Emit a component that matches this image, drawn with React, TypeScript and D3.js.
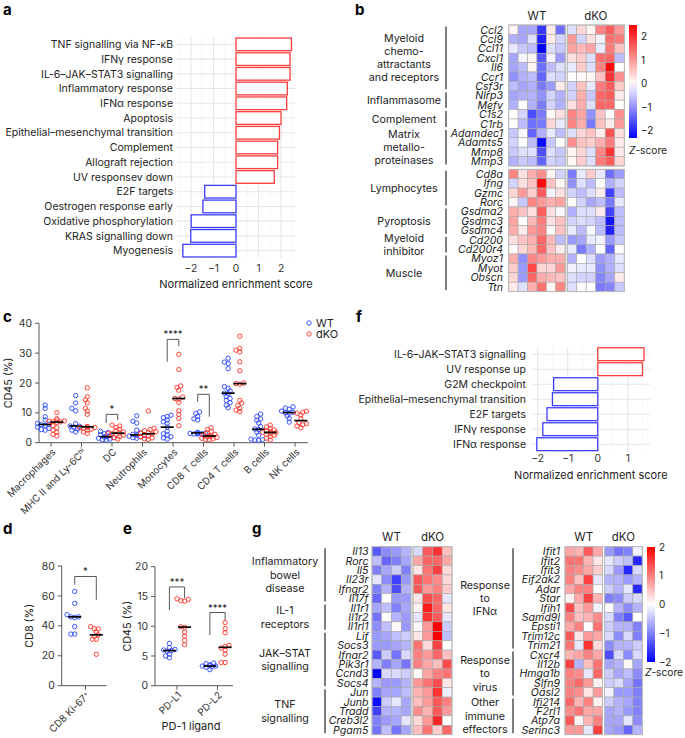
import React from 'react';
import * as d3 from 'd3';

const FONT = 'Inter, "Liberation Sans", Arial, sans-serif';
const RED = '#ff3b30';
const BLUE = '#2f4dff';

// ---------- a / f : GSEA bars
const gseaATerms = [
  'TNF signalling via NF-κB', 'IFNγ response', 'IL-6–JAK–STAT3 signalling', 'Inflammatory response',
  'IFNα response', 'Apoptosis', 'Epithelial–mesenchymal transition', 'Complement', 'Allograft rejection',
  'UV responsev down', 'E2F targets', 'Oestrogen response early', 'Oxidative phosphorylation',
  'KRAS signalling down', 'Myogenesis',
];
const gseaAScores = [2.46, 2.4, 2.4, 2.28, 2.25, 2.0, 1.93, 1.85, 1.85, 1.7, -1.39, -1.47, -1.99, -2.01, -2.36];
const gseaFTerms = [
  'IL-6–JAK–STAT3 signalling', 'UV response up', 'G2M checkpoint', 'Epithelial–mesenchymal transition',
  'E2F targets', 'IFNγ response', 'IFNα response',
];
const gseaFScores = [1.54, 1.49, -1.47, -1.51, -1.69, -1.83, -2.03];
const nesTicksA = [-2, -1, 0, 1, 2];
const nesTicksF = [-2, -1, 0, 1];

// ---------- b : heatmap
const genesB = [
  'Ccl2', 'Ccl9', 'Ccl11', 'Cxcl1', 'Il6', 'Ccr1', 'Csf3r', 'Nlrp3', 'Mefv', 'C1s2', 'C1rb', 'Adamdec1',
  'Adamts5', 'Mmp8', 'Mmp3', 'Cd8a', 'Ifng', 'Gzmc', 'Rorc', 'Gsdma2', 'Gsdmc3', 'Gsdmc4', 'Cd200',
  'Cd200r4', 'Myoz1', 'Myot', 'Obscn', 'Ttn',
];
const valuesB = [
  [0.1, -0.8, -0.8, -1.8, 0.2, -1.3, -0.3, 0.4, 0.1, 1.2, 1.6, 1.0],
  [-0.7, -0.8, -0.3, -2.0, 0.2, -0.4, 1.0, -0.4, 0.3, -0.1, 1.4, 1.3],
  [-0.2, -0.5, -0.6, -2.3, -0.3, -0.5, 0.9, 0.7, 0.9, -0.2, 1.3, 0.6],
  [-0.8, -0.1, 0.1, -1.5, -0.1, -0.9, 0.3, 0.5, -0.3, 1.4, 1.5, -0.6],
  [-0.8, -0.6, 0.1, -1.3, -0.6, -0.3, -0.2, 0.5, -0.3, 1.2, 2.4, 0.0],
  [-1.0, -0.7, -0.6, -1.4, -0.3, -0.4, 0.0, 0.05, 0.1, 0.6, 2.0, 1.1],
  [-0.6, -0.8, -0.7, -1.2, -0.9, 0.2, -0.4, 0.6, -0.2, 1.3, 1.6, 0.5],
  [-0.8, -0.7, -0.7, -1.0, -0.4, -0.7, -0.4, 0.8, -0.5, 1.5, 1.6, 0.2],
  [-0.7, 0.0, -0.7, -1.2, -0.4, -0.7, 0.3, 0.8, -0.3, 1.5, 1.5, 0.0],
  [0.0, -0.4, -1.6, -1.2, 0.05, 0.3, 1.2, 0.9, -1.0, 0.6, 0.0, 1.1],
  [0.0, -0.6, -1.3, -1.2, 0.4, -0.2, 1.2, 0.8, -1.2, 0.6, 0.2, 1.0],
  [-0.5, -0.05, -1.4, -0.7, -0.2, -0.6, -0.3, 0.4, 0.6, 0.2, 1.7, 0.3],
  [-0.4, 0.0, -0.6, -2.2, -0.5, 0.0, 1.1, 0.6, 0.5, 0.8, 1.3, 0.2],
  [-0.5, -0.3, -0.3, -1.6, -0.3, -0.5, 0.1, 0.4, -0.3, 1.2, 2.0, 0.2],
  [-0.7, -0.5, -0.6, -1.4, -0.4, -0.5, 0.1, 0.5, -0.3, 1.3, 1.6, 0.4],
  [1.2, 0.3, 0.8, 1.1, 0.1, -0.4, -1.2, -0.2, 0.5, -0.2, -1.3, -0.9],
  [-0.4, 0.3, 0.6, 2.4, 0.6, 0.1, -1.0, -0.3, -0.6, 0.0, -0.7, -0.4],
  [0.4, 1.0, 0.5, 1.6, -0.1, 0.3, -0.4, -0.6, -0.3, 0.2, -1.7, -0.6],
  [0.1, -0.5, 1.2, 1.0, 0.8, 0.9, 0.05, -0.4, -0.8, -0.6, -1.2, -0.2],
  [0.8, 0.6, 0.3, 1.6, 0.3, -0.05, -0.7, -0.3, -0.3, 0.2, -1.7, -0.6],
  [0.9, 0.0, 0.7, 1.3, 0.3, 0.6, -0.4, -0.3, -0.4, -0.6, -2.1, -0.6],
  [0.8, 0.2, 1.0, 1.2, 0.05, 0.6, -0.2, -0.6, -0.05, -0.6, -2.0, -0.6],
  [0.3, 0.6, 0.8, 1.5, 0.7, -0.6, -0.9, -0.8, -0.2, -0.1, -0.9, -0.5],
  [0.05, 0.4, 0.7, 1.5, 0.6, 0.2, -0.2, -1.2, -0.7, 0.0, -1.4, 0.0],
  [0.8, -1.0, 1.2, 1.0, 0.8, 0.8, -0.7, 0.0, -0.3, -0.9, -0.7, -0.2],
  [0.5, -0.9, 1.8, 0.4, 0.4, 1.0, -0.1, -0.2, -0.2, -1.0, -0.7, -0.3],
  [0.4, -0.9, 1.5, 0.8, 0.7, 0.6, -0.3, -0.4, -0.4, -1.1, -0.8, 0.2],
  [0.2, -0.3, 0.8, 1.4, 0.1, 1.2, -0.3, 0.05, 0.0, -1.2, -1.1, -0.5],
];
const groupsB = [
  { lines: ['Myeloid', 'chemo-', 'attractants', 'and receptors'], n: 7 },
  { lines: ['Inflammasome'], n: 2 },
  { lines: ['Complement'], n: 2 },
  { lines: ['Matrix', 'metallo-', 'proteinases'], n: 4 },
  { lines: ['Lymphocytes'], n: 4 },
  { lines: ['Pyroptosis'], n: 3 },
  { lines: ['Myeloid', 'inhibitor'], n: 2 },
  { lines: ['Muscle'], n: 4 },
];
const zTicksB = [2, 1, 0, -1, -2];

// ---------- g : heatmaps
const genesGLeft = [
  'Il13', 'Rorc', 'Il5', 'Il23r', 'Ifngr2', 'Il17f', 'Il1r1', 'Il1r2', 'Il1rl1', 'Lif', 'Socs3', 'Ifnar2',
  'Pik3r1', 'Ccnd3', 'Socs4', 'Jun', 'Junb', 'Tradd', 'Creb3l2', 'Pgam5',
];
const valuesGLeft = [
  [-1.3, -0.9, -0.8, -0.6, -0.3, 1.3, 1.6, 0.5],
  [-0.5, -1.2, -1.0, -0.7, 0.7, 1.2, 1.2, 0.7],
  [-1.0, -0.7, -0.4, -1.0, 0.2, 1.1, 1.5, 0.3],
  [-0.2, -0.9, -1.5, -0.8, 1.3, 1.1, 0.9, 0.3],
  [-1.0, -0.6, -1.4, -0.6, 1.3, 0.8, 1.0, 0.4],
  [-1.2, 0.0, -0.8, -0.8, 0.2, 1.4, 1.2, -0.2],
  [-0.7, -0.5, -1.0, -0.7, 0.1, 1.8, 1.2, 0.2],
  [-1.1, 0.0, -0.6, -0.8, -0.2, 1.6, 1.3, -0.2],
  [-0.9, -0.5, 0.05, -0.8, 0.05, 0.8, 2.0, -0.4],
  [-0.8, -0.7, -0.5, -0.4, 0.2, 0.8, 2.0, -0.5],
  [-0.8, -0.8, -0.7, -0.6, 1.1, 0.3, 1.5, 0.0],
  [-1.3, -0.4, -1.1, -0.3, 1.0, 0.8, 1.2, 0.5],
  [-0.6, -1.0, -0.7, -1.1, 1.0, 0.7, 0.5, 1.4],
  [-2.0, -0.3, -0.3, -0.4, 0.05, 0.7, 1.0, 1.1],
  [-0.6, -0.8, -0.8, -0.6, 0.8, 1.1, 1.4, 0.2],
  [-1.0, -0.7, -0.7, -0.5, 0.6, 0.8, 1.6, -0.1],
  [-1.9, -0.4, -0.2, -0.7, 0.5, 0.8, 1.3, 1.0],
  [-1.5, -0.6, -0.6, -0.7, 0.9, 0.6, 1.3, 0.8],
  [-1.0, -0.8, -0.7, -0.2, 0.3, 0.8, 1.7, 0.0],
  [-1.1, -0.5, -1.1, -0.7, 0.5, 1.1, 0.4, 1.2],
];
const groupsGLeft = [
  { lines: ['Inflammatory', 'bowel', 'disease'], n: 6 },
  { lines: ['IL-1', 'receptors'], n: 3 },
  { lines: ['JAK–STAT', 'signalling'], n: 6 },
  { lines: ['TNF', 'signalling'], n: 5 },
];
const genesGRight = [
  'Ifit1', 'Ifit2', 'Ifit3', 'Eif2ak2', 'Adar', 'Star', 'Ifih1', 'Samd9l', 'Epsti1', 'Trim12c', 'Trim21',
  'Cxcr4', 'Il12b', 'Hmga1b', 'Slfn9', 'Oasl2', 'Ifi214', 'F2rl1', 'Atp7a', 'Serinc3',
];
const valuesGRight = [
  [0.7, 0.6, 1.3, 0.7, -0.8, -1.1, -1.0, -0.1],
  [1.1, 1.1, 0.6, 0.2, -0.2, -0.4, -0.5, -1.7],
  [1.0, 0.9, 0.7, 0.4, -0.3, -0.8, -1.7, -0.3],
  [1.0, 0.5, 1.5, -0.2, -0.6, -0.6, -0.8, -0.6],
  [0.7, 1.0, 1.0, 0.0, -0.4, -0.6, -0.2, -1.7],
  [0.1, 0.7, 1.5, 0.6, -1.0, -0.9, -0.4, -0.3],
  [1.4, 0.5, 0.8, -0.1, 0.05, -0.6, -0.9, -0.6],
  [1.0, 0.5, 0.6, 0.9, -0.3, -1.0, -1.3, 0.0],
  [0.7, 1.0, 0.0, 1.1, -0.4, -0.6, -0.6, -1.0],
  [1.3, 0.2, 0.8, 0.7, -0.3, -0.9, -0.3, -1.0],
  [1.1, -0.2, 1.6, 0.3, -0.9, -0.6, -0.6, -0.4],
  [0.6, 0.7, 1.0, 0.7, -1.4, -0.3, -0.9, -0.3],
  [1.5, -0.6, 0.5, 1.1, -0.7, -0.6, 0.05, -0.7],
  [1.0, 0.9, -0.2, 1.2, -0.4, -0.7, -0.5, -0.9],
  [1.0, 1.2, 0.8, 0.1, -0.4, -0.3, -0.7, -1.1],
  [1.0, 0.9, 0.2, 0.8, -0.1, -0.8, -0.8, -1.0],
  [1.2, 0.6, 1.0, 0.1, -0.4, -0.6, -0.7, -1.0],
  [0.9, 1.1, 0.7, 0.7, -0.7, -0.6, -0.8, -1.0],
  [1.3, 0.1, 0.6, 1.0, -0.7, -0.7, -0.2, -0.9],
  [0.8, 0.8, -0.2, 1.5, -0.7, -0.8, -1.2, -0.6],
];
const groupsGRight = [
  { lines: ['Response', 'to', 'IFNα'], n: 11 },
  { lines: ['Response', 'to', 'virus'], n: 5 },
  { lines: ['Other', 'immune', 'effectors'], n: 4 },
];
const zTicksG = [2, 1, 0, -1, -2];

// ---------- c : CD45 % by cell type
const catsC = ['Macrophages', 'MHC II and Ly-6C^hi', 'DC', 'Neutrophils', 'Monocytes', 'CD8 T cells', 'CD4 T cells', 'B cells', 'NK cells'];
const wtC = [
  [12.6, 11.5, 8.7, 7.6, 6.5, 6.2, 6.0, 5.8, 5.2, 4.8, 4.4, 4.2],
  [15.8, 13.3, 11.5, 10.7, 6.4, 5.6, 5.5, 5.2, 4.6, 4.2, 3.6],
  [3.8, 3.4, 3.0, 2.7, 2.4, 2.1, 2.0, 1.9, 1.7, 1.5, 1.2, 1.0, 0.9],
  [9.0, 7.2, 6.6, 4.2, 3.3, 2.8, 2.6, 2.5, 2.4, 2.2, 2.0, 1.7, 1.5],
  [9.2, 8.8, 8.4, 7.6, 7.0, 6.5, 5.2, 3.8, 3.0, 2.6, 2.0, 1.6, 1.2],
  [10.3, 9.8, 8.8, 8.0, 7.6, 3.4, 3.3, 3.2, 3.2, 3.1, 3.0, 2.9, 2.9],
  [28.3, 27.0, 26.5, 24.8, 18.8, 18.2, 17.3, 16.6, 16.4, 15.5, 14.8, 14.2, 13.4, 12.6, 11.7],
  [9.6, 8.8, 8.0, 7.5, 6.6, 5.4, 4.6, 4.4, 3.5, 2.5, 1.2, 1.0, 0.9, 0.8],
  [12.0, 11.6, 11.2, 10.6, 10.2, 10.0, 9.9, 9.0, 8.1, 6.9],
];
const dkoC = [
  [10.1, 8.0, 7.6, 7.3, 7.2, 7.0, 7.0, 6.8, 5.8, 5.0, 4.2, 3.5, 2.8, 2.3],
  [18.4, 15.4, 14.3, 13.4, 11.5, 10.6, 9.5, 5.4, 5.3, 5.2, 5.1, 5.0, 4.8, 4.5, 4.2, 3.6, 3.1],
  [5.9, 5.6, 5.1, 4.5, 4.0, 3.6, 3.3, 3.1, 3.0, 2.8, 2.5, 2.1, 1.7, 1.2],
  [10.6, 4.8, 4.4, 4.0, 3.7, 3.4, 3.1, 2.9, 2.7, 2.3, 2.0, 1.6, 1.3, 1.1],
  [29.6, 24.5, 19.0, 18.5, 17.6, 15.3, 14.8, 14.6, 13.5, 10.7, 9.5, 8.1, 5.7],
  [5.0, 4.4, 3.8, 3.3, 2.8, 2.5, 2.3, 2.2, 2.0, 1.8, 1.5, 1.3, 1.0, 1.0],
  [35.7, 31.6, 31.0, 30.4, 27.1, 24.1, 20.0, 19.8, 19.6, 14.2, 13.3, 12.5, 11.5, 10.9, 10.4],
  [5.9, 5.3, 4.8, 4.3, 3.9, 3.7, 3.5, 3.4, 3.1, 2.8, 2.5, 2.0, 1.5, 0.9],
  [10.5, 10.2, 9.9, 9.3, 8.1, 6.7, 6.4, 6.0, 5.6, 5.0],
];
const ticksC = [0, 10, 20, 30, 40];
const bracketsC = [
  { cat: 'DC', top: 9.5, left: 6.6, right: 7.6, label: '*' },
  { cat: 'Monocytes', top: 34.6, left: 27.1, right: 32.4, label: '****' },
  { cat: 'CD8 T cells', top: 16.2, left: 13.7, right: 8.7, label: '**' },
];

// ---------- d : CD8 Ki-67+
const catsD = ['CD8 Ki-67^+'];
const wtD = [[63, 55, 47.5, 46, 46, 45.5, 39.5, 34.5, 34.5]];
const dkoD = [[39.5, 38, 38, 36, 34, 33, 31, 31, 21]];
const ticksD = [0, 20, 40, 60, 80];
const bracketsD = [{ cat: 'CD8 Ki-67^+', top: 73, left: 67.5, right: 57.4, label: '*' }];

// ---------- e : PD-1 ligands
const catsE = ['PD-L1', 'PD-L2'];
const wtE = [
  [7.1, 6.4, 6.1, 6.0, 5.9, 5.8, 5.3, 5.0, 4.7],
  [3.8, 3.7, 3.5, 3.4, 3.3, 3.3, 3.2, 3.1, 2.7],
];
const dkoE = [
  [14.6, 14.5, 14.3, 14.2, 9.9, 9.8, 9.0, 8.3, 7.6, 6.9],
  [10.6, 9.6, 8.9, 6.8, 6.6, 6.3, 6.0, 5.3, 3.9, 3.9],
];
const ticksE = [0, 5, 10, 15, 20];
const bracketsE = [
  { cat: 'PD-L1', top: 16.6, left: 12.7, right: 14.7, label: '***' },
  { cat: 'PD-L2', top: 12.3, left: 8.5, right: 11.0, label: '****' },
];

const fmt = (v: number) => (v < 0 ? `−${-v}` : `${v}`);

function supLabel(s: string) {
  const [a, b] = s.split('^');
  return (
    <>
      {a}
      {b && (
        <tspan dy={-3} fontSize="70%">
          {b}
        </tspan>
      )}
    </>
  );
}

// ---------------------------------------------------------------- GSEA
function Gsea({ terms, scores, ticks, domain, xr, yr, labelX, tickY, titleY }: any) {
  const x = d3.scaleLinear().domain(domain).range(xr);
  const y = d3.scaleBand<string>().domain(terms).range(yr).paddingInner(0.14).paddingOuter(0.07);
  const minor = d3.range(Math.ceil(domain[0] * 2) / 2, domain[1], 0.5).filter((v) => !Number.isInteger(v));
  const x0 = x(0);
  return (
    <g>
      {minor.map((v) => (
        <line key={'m' + v} x1={x(v)} x2={x(v)} y1={yr[0]} y2={yr[1]} stroke="#f2f2f2" strokeWidth={0.7} />
      ))}
      {ticks.map((v: number) => (
        <line key={'M' + v} x1={x(v)} x2={x(v)} y1={yr[0]} y2={yr[1]} stroke="#e6e6e6" strokeWidth={1.1} />
      ))}
      {terms.map((t: string) => (
        <line key={'h' + t} x1={xr[0]} x2={xr[1]} y1={y(t)! + y.bandwidth() / 2} y2={y(t)! + y.bandwidth() / 2} stroke="#e6e6e6" strokeWidth={1.1} />
      ))}
      {terms.map((t: string, i: number) => {
        const v = scores[i];
        return (
          <rect
            key={'b' + t}
            x={Math.min(x0, x(v))}
            y={y(t)}
            width={Math.abs(x(v) - x0)}
            height={y.bandwidth()}
            fill="white"
            stroke={v > 0 ? '#ff3d3d' : '#3d3dff'}
            strokeWidth={1.3}
          />
        );
      })}
      {terms.map((t: string) => (
        <text key={'l' + t} x={labelX} y={y(t)! + y.bandwidth() / 2} dy="0.35em" textAnchor="end" fontSize={10.5} fill="#222">
          {t}
        </text>
      ))}
      {ticks.map((v: number) => (
        <text key={'t' + v} x={x(v)} y={tickY} textAnchor="middle" fontSize={10.3} fill="#333">
          {fmt(v)}
        </text>
      ))}
      <text x={(xr[0] + xr[1]) / 2} y={titleY} textAnchor="middle" fontSize={11} fill="#222">
        Normalized enrichment score
      </text>
    </g>
  );
}

// ---------------------------------------------------------------- Heatmap
type Group = { lines: string[]; n: number };

function Heatmap({ genes, values, nWt, wtX, koX, rowBlocks, blockSizes, color, geneX, groups, groupX, bracketX, lineH, headerY }: any) {
  const nKo = values[0].length - nWt;
  const xWt = d3.scaleBand<number>().domain(d3.range(nWt)).range(wtX);
  const xKo = d3.scaleBand<number>().domain(d3.range(nKo)).range(koX);
  const colX = (j: number) => (j < nWt ? xWt(j)! : xKo(j - nWt)!);
  const cw = xWt.bandwidth();
  const cwK = xKo.bandwidth();
  const rowY: number[] = [];
  let rh = 0;
  let start = 0;
  const blocks: { y0: number; y1: number }[] = [];
  blockSizes.forEach((n: number, k: number) => {
    const ys = d3.scaleBand<string>().domain(genes.slice(start, start + n)).range(rowBlocks[k]);
    genes.slice(start, start + n).forEach((g: string) => rowY.push(ys(g)!));
    rh = ys.bandwidth();
    blocks.push({ y0: rowBlocks[k][0], y1: rowBlocks[k][1] });
    start += n;
  });
  let gi = 0;
  const groupEls = (groups as Group[]).map((g, k) => {
    const top = rowY[gi];
    const bot = rowY[gi + g.n - 1] + rh;
    gi += g.n;
    const cy = (top + bot) / 2;
    return (
      <g key={'g' + k}>
        <line x1={bracketX} x2={bracketX} y1={top + 1.5} y2={bot - 1.5} stroke="#111" strokeWidth={1.1} />
        {g.lines.map((ln, i) => (
          <text key={i} x={groupX} y={cy + (i - (g.lines.length - 1) / 2) * lineH} dy="0.35em" textAnchor="middle" fontSize={10.7} fill="#222">
            {ln}
          </text>
        ))}
      </g>
    );
  });
  return (
    <g>
      {values.map((row: number[], i: number) =>
        row.map((v, j) => (
          <rect
            key={i + '-' + j}
            x={colX(j)}
            y={rowY[i]}
            width={j < nWt ? cw : cwK}
            height={rh}
            fill={color(v)}
            stroke="#a8a8a8"
            strokeWidth={0.6}
          />
        ))
      )}
      {blocks.map((b, k) => (
        <g key={'o' + k}>
          <rect x={wtX[0]} y={b.y0} width={wtX[1] - wtX[0]} height={b.y1 - b.y0} fill="none" stroke="#b8b8b8" strokeWidth={1} />
          <rect x={koX[0]} y={b.y0} width={koX[1] - koX[0]} height={b.y1 - b.y0} fill="none" stroke="#b8b8b8" strokeWidth={1} />
        </g>
      ))}
      {genes.map((g: string, i: number) => (
        <text key={'n' + g} x={geneX} y={rowY[i] + rh / 2} dy="0.36em" textAnchor="end" fontSize={10.6} fontStyle="italic" fill="#222">
          {g}
        </text>
      ))}
      <text x={(wtX[0] + wtX[1]) / 2} y={headerY} textAnchor="middle" fontSize={11.5} fill="#222">
        WT
      </text>
      <text x={(koX[0] + koX[1]) / 2} y={headerY} textAnchor="middle" fontSize={11.5} fill="#222">
        dKO
      </text>
      {groupEls}
    </g>
  );
}

function ColorBar({ id, x, y0, y1, domain, color, ticks, labelX, labelY }: any) {
  const s = d3.scaleLinear().domain(domain).range([y1, y0]);
  const stops = d3.range(0, 1.0001, 0.1).map((t) => domain[0] + t * (domain[1] - domain[0]));
  return (
    <g>
      <defs>
        <linearGradient id={id} x1="0" y1="1" x2="0" y2="0">
          {stops.map((v, i) => (
            <stop key={i} offset={i / (stops.length - 1)} stopColor={color(v)} />
          ))}
        </linearGradient>
      </defs>
      <rect x={x} y={y0} width={8} height={y1 - y0} fill={`url(#${id})`} />
      {ticks.map((t: number) => (
        <text key={t} x={x + 12} y={s(t)} dy="0.35em" fontSize={10} fill="#222">
          {fmt(t)}
        </text>
      ))}
      <text x={labelX} y={labelY} fontSize={10.2} fill="#222">
        <tspan fontStyle="italic">Z</tspan>-score
      </text>
    </g>
  );
}

// ---------------------------------------------------------------- dot plots
function swarm(vals: number[], y: (v: number) => number, cx: number, r: number) {
  const placed: { x: number; y: number }[] = [];
  const sorted = [...vals].sort((a, b) => a - b);
  const step = 1.9;
  for (const v of sorted) {
    const py = y(v);
    let px = cx;
    for (let k = 0; k < 10; k++) {
      const off = k === 0 ? 0 : Math.ceil(k / 2) * step * (k % 2 ? -1 : 1);
      const cand = cx + off;
      if (placed.every((p) => Math.hypot(p.x - cand, p.y - py) >= 3.2)) {
        px = cand;
        break;
      }
    }
    placed.push({ x: px, y: py });
  }
  return placed;
}

function DotPanel({ cats, wt, dko, yDomain, yr, xr, axisX, off, ticks, brackets, labelRot, title, titleX }: any) {
  const y = d3.scaleLinear().domain(yDomain).range(yr);
  const x = d3.scalePoint<string>().domain(cats).range(xr);
  const r = 2.2;
  const groupEls = cats.map((c: string, i: number) => {
    const cx = x(c)!;
    const series = [
      { vals: wt[i], cx: cx - off, col: BLUE },
      { vals: dko[i], cx: cx + off, col: RED },
    ];
    return (
      <g key={c}>
        {series.map((s, k) => (
          <g key={k}>
            {swarm(s.vals, y, s.cx, r).map((p, j) => (
              <circle key={j} cx={p.x} cy={p.y} r={r} fill="none" stroke={s.col} strokeWidth={0.95} />
            ))}
            <line x1={s.cx - 6.5} x2={s.cx + 6.5} y1={y(d3.median(s.vals)!)} y2={y(d3.median(s.vals)!)} stroke="#000" strokeWidth={1.7} />
          </g>
        ))}
      </g>
    );
  });
  return (
    <g>
      <line x1={axisX[0]} x2={axisX[0]} y1={yr[0]} y2={yr[1]} stroke="#444" strokeWidth={0.9} />
      <line x1={axisX[0]} x2={axisX[1]} y1={yr[0]} y2={yr[0]} stroke="#444" strokeWidth={0.9} />
      {ticks.map((t: number) => (
        <g key={t}>
          <line x1={axisX[0] - 4} x2={axisX[0]} y1={y(t)} y2={y(t)} stroke="#444" strokeWidth={0.9} />
          <text x={axisX[0] - 7} y={y(t)} dy="0.35em" textAnchor="end" fontSize={10.4} fill="#333">
            {t}
          </text>
        </g>
      ))}
      {cats.map((c: string) => (
        <g key={'t' + c}>
          <line x1={x(c)} x2={x(c)} y1={yr[0]} y2={yr[0] + 4} stroke="#444" strokeWidth={0.9} />
          <text transform={`translate(${x(c)! + 3},${yr[0] + 8}) rotate(${labelRot})`} textAnchor="end" fontSize={9.8} fill="#333" dy="0.3em">
            {supLabel(c)}
          </text>
        </g>
      ))}
      {groupEls}
      {brackets.map((b: any) => {
        const cx = x(b.cat)!;
        const xl = cx - off;
        const xr2 = cx + off;
        return (
          <g key={'br' + b.cat}>
            <path d={`M${xl},${y(b.left)}V${y(b.top)}H${xr2}V${y(b.right)}`} fill="none" stroke="#555" strokeWidth={1} />
            <text x={cx} y={y(b.top) - 2} textAnchor="middle" fontSize={9.5} fill="#222">
              {b.label}
            </text>
          </g>
        );
      })}
      <text transform={`translate(${titleX},${(yr[0] + yr[1]) / 2}) rotate(-90)`} textAnchor="middle" fontSize={10.8} fill="#222">
        {title}
      </text>
    </g>
  );
}

const Letter = ({ x, y, t }: any) => (
  <text x={x} y={y} fontSize={15} fontWeight="bold" fill="#000">
    {t}
  </text>
);

export default function App() {
  const colorB = d3.scaleLinear<string>().domain([-2.3, 0, 2.5]).range(['#0000ff', '#ffffff', '#ff0000']).clamp(true);
  const colorG = d3.scaleLinear<string>().domain([-2, 0, 2]).range(['#0000ff', '#ffffff', '#ff0000']).clamp(true);
  return (
    <svg width={685} height={738} style={{ position: 'absolute', left: 0, top: 0, background: '#fff' }} fontFamily={FONT}>
      <rect width={685} height={738} fill="#fff" />
      <Letter x={3} y={15} t="a" />
      <Letter x={355} y={15} t="b" />
      <Letter x={3} y={322} t="c" />
      <Letter x={356} y={322} t="f" />
      <Letter x={3} y={534} t="d" />
      <Letter x={123} y={534} t="e" />
      <Letter x={252} y={534} t="g" />

      <Gsea terms={gseaATerms} scores={gseaAScores} ticks={nesTicksA} domain={[-2.62, 2.62]} xr={[177, 295]} yr={[37, 258]} labelX={173} tickY={272} titleY={288} />
      <Gsea terms={gseaFTerms} scores={gseaFScores} ticks={nesTicksF} domain={[-2.2, 1.74]} xr={[531.7, 650]} yr={[346.7, 451.7]} labelX={526} tickY={462} titleY={479} />

      <Heatmap
        genes={genesB}
        values={valuesB}
        nWt={6}
        wtX={[508.7, 565.2]}
        koX={[567.2, 624.3]}
        rowBlocks={[[25, 166], [169.3, 291.6]]}
        blockSizes={[15, 13]}
        color={colorB}
        geneX={503}
        groups={groupsB}
        groupX={404}
        bracketX={446}
        lineH={12.8}
        headerY={20}
      />
      <ColorBar id="cbB" x={629} y0={25} y1={138} domain={[-2.3, 2.5]} color={colorB} ticks={zTicksB} labelX={629} labelY={154} />

      <Heatmap
        genes={genesGLeft}
        values={valuesGLeft}
        nWt={4}
        wtX={[372, 411]}
        koX={[413, 452]}
        rowBlocks={[[546.7, 734.7]]}
        blockSizes={[20]}
        color={colorG}
        geneX={368.5}
        groups={groupsGLeft}
        groupX={285}
        bracketX={325}
        lineH={13.2}
        headerY={541}
      />
      <Heatmap
        genes={genesGRight}
        values={valuesGRight}
        nWt={4}
        wtX={[565, 602.5]}
        koX={[604.5, 642.3]}
        rowBlocks={[[546.7, 734.7]]}
        blockSizes={[20]}
        color={colorG}
        geneX={560}
        groups={groupsGRight}
        groupX={485}
        bracketX={513}
        lineH={13.3}
        headerY={541}
      />
      <ColorBar id="cbG" x={647} y0={547} y1={662} domain={[-2, 2]} color={colorG} ticks={zTicksG} labelX={645} labelY={676} />

      <DotPanel
        cats={catsC}
        wt={wtC}
        dko={dkoC}
        yDomain={[0, 40]}
        yr={[442.7, 323.3]}
        xr={[51, 295]}
        axisX={[39, 308]}
        off={5.8}
        ticks={ticksC}
        brackets={bracketsC}
        labelRot={-45}
        title="CD45 (%)"
        titleX={12}
      />
      <g fill="#222">
        <circle cx={309} cy={323} r={2.2} fill="none" stroke={BLUE} strokeWidth={0.95} />
        <text x={316} y={323} dy="0.35em" fontSize={11}>WT</text>
        <circle cx={309} cy={334} r={2.2} fill="none" stroke={RED} strokeWidth={0.95} />
        <text x={316} y={334} dy="0.35em" fontSize={11}>dKO</text>
      </g>

      <DotPanel
        cats={catsD}
        wt={wtD}
        dko={dkoD}
        yDomain={[0, 80]}
        yr={[685.7, 566]}
        xr={[85.5, 85.5]}
        axisX={[61.7, 106.7]}
        off={10.8}
        ticks={ticksD}
        brackets={bracketsD}
        labelRot={-45}
        title="CD8 (%)"
        titleX={33}
      />
      <DotPanel
        cats={catsE}
        wt={wtE}
        dko={dkoE}
        yDomain={[0, 20]}
        yr={[685.7, 566.7]}
        xr={[177, 217.5]}
        axisX={[155, 233]}
        off={7.6}
        ticks={ticksE}
        brackets={bracketsE}
        labelRot={-45}
        title="CD45 (%)"
        titleX={131}
      />
      <text x={191} y={730} textAnchor="middle" fontSize={11} fill="#222">
        PD-1 ligand
      </text>
    </svg>
  );
}
